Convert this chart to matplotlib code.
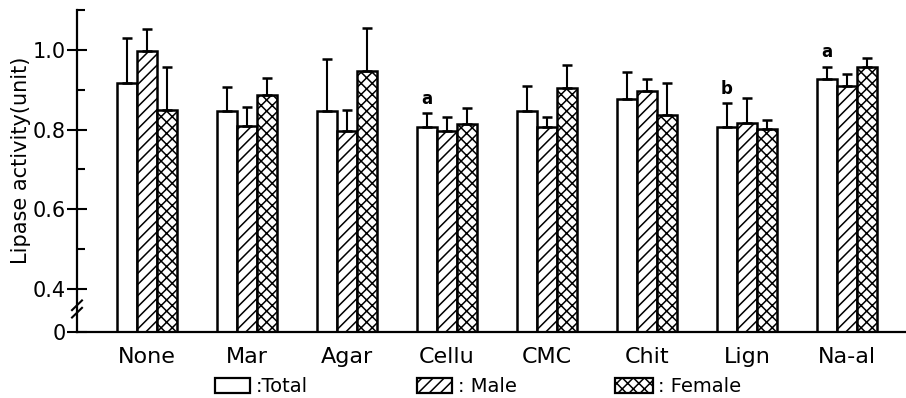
import matplotlib
matplotlib.use('Agg')
import matplotlib.pyplot as plt
import numpy as np
from matplotlib.patches import Rectangle

plt.rcParams['hatch.linewidth'] = 1.1

# data
groups = ['None', 'Mar', 'Agar', 'Cellu', 'CMC', 'Chit', 'Lign', 'Na-al']
total = [0.918, 0.847, 0.847, 0.806, 0.847, 0.876, 0.807, 0.927]
total_err = [0.111, 0.061, 0.130, 0.035, 0.063, 0.069, 0.059, 0.031]
male = [0.996, 0.809, 0.797, 0.797, 0.807, 0.897, 0.816, 0.910]
male_err = [0.056, 0.047, 0.052, 0.035, 0.024, 0.029, 0.064, 0.030]
female = [0.849, 0.887, 0.947, 0.813, 0.905, 0.837, 0.801, 0.958]
female_err = [0.108, 0.042, 0.107, 0.040, 0.057, 0.081, 0.023, 0.021]
letters = ['', '', '', 'a', '', '', 'b', 'a']

ytick_vals = [0, 0.4, 0.6, 0.8, 1.0]
ytick_labels = ['0', '0.4', '0.6', '0.8', '1.0']

# broken axis: squeeze 0..0.4 into a short stretch
G = 0.108
def fwd(v):
    v = np.asarray(v, dtype=float)
    return np.where(v >= 0.4, v - 0.4 + G, v * G / 0.4)

def inv(y):
    y = np.asarray(y, dtype=float)
    return np.where(y >= G, y + 0.4 - G, y * 0.4 / G)

fig = plt.figure(figsize=(9.06, 3.98), dpi=100)
ax = fig.add_axes([77/906, 1 - 332/398, 829/906, 322/398])
ax.set_yscale('function', functions=(fwd, inv))

x = np.arange(len(groups))
w = 0.2
lw = 1.8
ax.bar(x - w, total, w, color='white', edgecolor='black', linewidth=lw)
ax.bar(x, male, w, color='white', edgecolor='black', linewidth=lw, hatch='///')
ax.bar(x + w, female, w, color='white', edgecolor='black', linewidth=lw, hatch='xxx')

zeros = np.zeros(len(groups))
for xs, vals, errs in [(x - w, total, total_err), (x, male, male_err), (x + w, female, female_err)]:
    ax.errorbar(xs, vals, yerr=[zeros, errs], fmt='none', ecolor='black',
                elinewidth=1.5, capsize=3.5, capthick=1.8)

for i in range(len(groups)):
    if letters[i]:
        ax.annotate(letters[i], (x[i] - w, total[i] + total_err[i]), xytext=(0, 4),
                    textcoords='offset points', ha='center', va='bottom',
                    fontsize=12, fontweight='bold')

ax.set_xlim(-0.70, 7.59)
ax.set_ylim(0, 1.1)
ax.set_yticks(ytick_vals)
ax.set_yticklabels(ytick_labels, fontsize=15)
ax.set_yticks([0.5, 0.7, 0.9, 1.1], minor=True)
ax.tick_params(axis='y', which='major', direction='inout', length=14, width=1.5, pad=1)
ax.tick_params(axis='y', which='minor', direction='in', length=6, width=1.5)
ax.set_xticks(x)
ax.set_xticklabels(groups, fontsize=16)
ax.tick_params(axis='x', length=0, pad=11)

for s in ['top', 'right']:
    ax.spines[s].set_visible(False)
for s in ['left', 'bottom']:
    ax.spines[s].set_linewidth(1.6)

# break marks on the y axis
for yb in [0.045, 0.068]:
    ax.plot([-0.006, 0.006], [yb, yb + 0.03], color='black', lw=1.5,
            transform=ax.transAxes, clip_on=False)

fig.text(21/906, 1 - 160/398, 'Lipase activity(unit)', rotation=90,
         ha='center', va='center', fontsize=15)

# legend drawn by hand
legend_items = [(215, 35, '', ':Total', 256), (417, 35, '///', ': Male', 458),
                (615, 38, 'xxx', ': Female', 658)]
for bx, bw, hatch, label, tx in legend_items:
    fig.patches.append(Rectangle((bx/906, 1 - 393/398), bw/906, 15/398,
                                 transform=fig.transFigure, facecolor='white',
                                 edgecolor='black', linewidth=1.6, hatch=hatch))
    fig.text(tx/906, 1 - 386/398, label, ha='left', va='center', fontsize=14)

fig.savefig('out.png', dpi=100)
